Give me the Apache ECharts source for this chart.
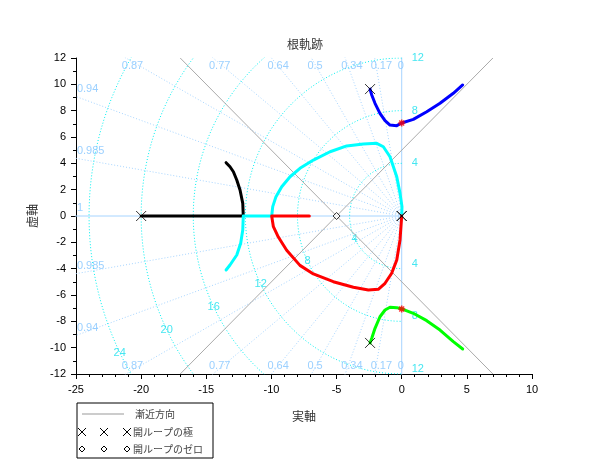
<!DOCTYPE html>
<html>
<head>
<meta charset="utf-8">
<title>根軌跡</title>
<script src="https://cdn.jsdelivr.net/npm/echarts@6/dist/echarts.min.js"></script>
<style>
    html, body { margin: 0; padding: 0; background: #fff; }
    #root_locus { width: 610px; height: 470px; }
</style>
</head>
<body>
<div id="root_locus"></div>
<script>

// Chart data
// ------------------------------

var poles = [[-20, 0], [0, 0], [0, 0], [-2.43, 9.64], [-2.43, -9.64]];
var zeros = [[-5, 0]];
var imagCrossings = [[0, 7.06], [0, -7.06]];

var asymptoteUp = [[-17, -12], [7, 12]];
var asymptoteDown = [[-17, 12], [7, -12]];

var branchBlack = [[-20, 0], [-12.16, 0], [-12.2, 0.96], [-12.41, 1.97], [-12.66, 2.73],
    [-12.92, 3.36], [-13.18, 3.74], [-13.48, 4.05]];

var branchCyan = [[0, 0], [0.02, 0.71], [-0.13, 1.72], [-0.38, 2.98], [-0.9, 4.5], [-1.41, 5.26],
    [-1.92, 5.52], [-2.95, 5.47], [-4.22, 5.32], [-5.5, 4.88], [-6.78, 4.25], [-7.81, 3.62],
    [-8.57, 2.98], [-9.21, 2.22], [-9.65, 1.47], [-9.9, 0.71], [-9.98, 0], [-12.16, 0],
    [-12.2, -1.06], [-12.36, -2.07], [-12.66, -2.96], [-13.18, -3.72], [-13.48, -4.1]];

var branchRed = [[0, 0], [-0.13, -1.82], [-0.38, -3.34], [-0.77, -4.35], [-1.28, -5.11],
    [-1.8, -5.57], [-2.56, -5.62], [-3.71, -5.41], [-5.25, -4.99], [-6.78, -4.4], [-7.81, -3.75],
    [-8.83, -2.6], [-9.47, -1.6], [-9.85, -0.81], [-9.98, 0], [-7.09, 0]];

var branchBlue = [[-2.43, 9.64], [-2.3, 9.19], [-2.05, 8.56], [-1.67, 7.8], [-1.28, 7.24],
    [-0.9, 6.91], [-0.38, 6.86], [0, 7.06], [0.89, 7.34], [1.92, 7.92], [2.94, 8.56],
    [3.96, 9.32], [4.68, 9.95]];

var branchGreen = [[-2.43, -9.64], [-2.3, -9.29], [-2.05, -8.53], [-1.67, -7.65], [-1.28, -7.14],
    [-0.9, -6.93], [-0.38, -6.96], [0, -7.06], [0.89, -7.39], [1.92, -7.95], [2.94, -8.66],
    [3.96, -9.54], [4.68, -10.1]];

// sgrid: damping ratios and natural frequencies
var zetaValues = [0, 0.17, 0.34, 0.5, 0.64, 0.77, 0.87, 0.94, 0.985, 1];
var zetaLabels = ['0', '0.17', '0.34', '0.5', '0.64', '0.77', '0.87', '0.94', '0.985', '1'];
var wnValues = [4, 8, 12, 16, 20, 24];
var wnRightLabels = [4, 8, 12];

var xTicks = { min: -25, max: 10, interval: 5 };
var yTicks = { min: -12, max: 12, interval: 2 };


// Setup module
// ------------------------------

var RootLocusChart = function() {

    var ZETA_COLOR = '#a6d4ff';
    var ZETA_TEXT = '#82c4ff';
    var WN_COLOR = '#00f0f0';
    var WN_TEXT = '#18e0ee';
    var LABEL_FONT = 'Liberation Sans, Arial, sans-serif';
    var JP_FONT = 'Noto Sans CJK JP, sans-serif';

    // Radial damping lines and natural frequency arcs
    var _gridSeries = function() {
        var list = [];
        var far = 60;

        zetaValues.forEach(function(z) {
            var phi = Math.acos(z);
            var dx = -far * Math.cos(phi), dy = far * Math.sin(phi);
            var solid = (z === 0 || z === 1);
            var halves = (z === 1) ? [1] : [1, -1];
            halves.forEach(function(s) {
                list.push({
                    type: 'line', silent: true, symbol: 'none', z: 1,
                    data: [[0, 0], [dx, s * dy]],
                    lineStyle: { color: ZETA_COLOR, width: 1, type: solid ? 'solid' : [1, 2] }
                });
            });
        });

        wnValues.forEach(function(r) {
            var pts = [];
            for (var a = 90; a <= 270; a += 2) {
                pts.push([r * Math.cos(a * Math.PI / 180), r * Math.sin(a * Math.PI / 180)]);
            }
            list.push({
                type: 'line', silent: true, symbol: 'none', z: 1, smooth: false,
                data: pts,
                lineStyle: { color: WN_COLOR, width: 1, type: [1, 2] }
            });
        });
        return list;
    };

    // Text labels of the sgrid
    var _gridLabels = function() {
        var items = [];
        var base = { show: true, fontSize: 11, fontFamily: LABEL_FONT, color: ZETA_TEXT };

        zetaValues.forEach(function(z, i) {
            var phi = Math.acos(z);
            var halves = (z === 1) ? [1] : [1, -1];
            halves.forEach(function(s) {
                var x, y, lab;
                var xTop = (z === 0) ? 0 : -yTicks.max * Math.cos(phi) / Math.sin(phi);
                if (z !== 1 && xTop >= xTicks.min) {
                    x = xTop; y = s * yTicks.max;
                    lab = Object.assign({}, base, {
                        position: [-4, s > 0 ? 3 : -2], align: 'left',
                        verticalAlign: s > 0 ? 'top' : 'bottom'
                    });
                } else {
                    x = xTicks.min; y = s * (-xTicks.min) * Math.tan(phi);
                    lab = Object.assign({}, base, {
                        position: [1, -2], align: 'left', verticalAlign: 'bottom'
                    });
                }
                items.push({ value: [x, y], name: zetaLabels[i], label: lab });
            });
        });

        var ang = 205.6 * Math.PI / 180;
        wnValues.forEach(function(r) {
            items.push({
                value: [r * Math.cos(ang), r * Math.sin(ang)], name: String(r),
                label: Object.assign({}, base, {
                    color: WN_TEXT, position: [0, 0], align: 'center', verticalAlign: 'middle'
                })
            });
        });

        wnRightLabels.forEach(function(r) {
            [1, -1].forEach(function(s) {
                items.push({
                    value: [0, s * r], name: String(r),
                    label: Object.assign({}, base, {
                        color: WN_TEXT, position: [10, s > 0 ? 0 : -5],
                        align: 'left', verticalAlign: 'middle'
                    })
                });
            });
        });

        return {
            type: 'scatter', silent: true, z: 2, symbolSize: 0.1,
            itemStyle: { color: 'transparent' },
            label: { show: true, formatter: '{b}' },
            data: items
        };
    };

    var _branch = function(data, color) {
        return {
            type: 'line', symbol: 'none', z: 4, data: data,
            lineStyle: { color: color, width: 3, cap: 'round', join: 'round' }
        };
    };

    var _asymptote = function(data) {
        return {
            type: 'line', symbol: 'none', z: 3, silent: true, data: data,
            lineStyle: { color: '#aaaaaa', width: 1 }
        };
    };

    // Legend drawn as graphic elements
    var _legend = function() {
        var els = [];
        var left = 77, top = 403;
        els.push({ type: 'rect', shape: { x: left, y: top, width: 136, height: 55 },
            style: { fill: '#fff', stroke: '#000', lineWidth: 1 } });
        els.push({ type: 'line', shape: { x1: left + 5, y1: top + 11, x2: left + 47, y2: top + 11 },
            style: { stroke: '#999', lineWidth: 1 } });
        [5, 27, 50].forEach(function(dx) {
            var cx = left + dx, cy = top + 29;
            els.push({ type: 'line', shape: { x1: cx - 4, y1: cy - 4, x2: cx + 4, y2: cy + 4 },
                style: { stroke: '#000', lineWidth: 1 } });
            els.push({ type: 'line', shape: { x1: cx - 4, y1: cy + 4, x2: cx + 4, y2: cy - 4 },
                style: { stroke: '#000', lineWidth: 1 } });
            var dy = top + 46;
            els.push({ type: 'polygon', shape: { points: [[cx, dy - 3], [cx + 3, dy], [cx, dy + 3], [cx - 3, dy]] },
                style: { fill: '#fff', stroke: '#000', lineWidth: 1 } });
        });
        var texts = [['漸近方向', 58, 11], ['開ループの極', 56, 29], ['開ループのゼロ', 56, 46]];
        texts.forEach(function(t) {
            els.push({ type: 'text', x: left + t[1], y: top + t[2],
                style: { text: t[0], fill: '#444', font: '10px ' + JP_FONT, verticalAlign: 'middle' } });
        });
        return els;
    };

    var _init = function() {
        if (typeof echarts == 'undefined') {
            console.warn('Warning - echarts.min.js is not loaded.');
            return;
        }
        var element = document.getElementById('root_locus');
        if (!element) return;

        var chart = echarts.init(element, null, { renderer: 'canvas' });

        var series = _gridSeries();
        series.push(_gridLabels());
        series.push(_asymptote(asymptoteUp));
        series.push(_asymptote(asymptoteDown));
        series.push(_branch(branchBlack, '#000000'));
        series.push(_branch(branchCyan, '#00ffff'));
        series.push(_branch(branchRed, '#ff0000'));
        series.push(_branch(branchBlue, '#0000ff'));
        series.push(_branch(branchGreen, '#00ff00'));

        // Open-loop poles
        series.push({
            type: 'scatter', z: 6, data: poles,
            symbol: 'path://M0,0L10,10M10,0L0,10', symbolSize: 10,
            itemStyle: { color: 'transparent', borderColor: '#000', borderWidth: 1 }
        });
        // Open-loop zeros
        series.push({
            type: 'scatter', z: 6, data: zeros,
            symbol: 'diamond', symbolSize: 7,
            itemStyle: { color: '#fff', borderColor: '#000', borderWidth: 1 }
        });
        // Imaginary axis crossings
        series.push({
            type: 'scatter', z: 7, data: imagCrossings,
            symbol: 'path://M5,0L5,10M0,5L10,5M1.5,1.5L8.5,8.5M8.5,1.5L1.5,8.5', symbolSize: 7,
            itemStyle: { color: 'transparent', borderColor: '#ff0000', borderWidth: 1.5 }
        });

        chart.setOption({
            animation: false,
            textStyle: { fontFamily: LABEL_FONT },
            title: {
                text: '根軌跡', left: 'center', top: 33,
                textStyle: { fontSize: 12, fontWeight: 'normal', color: '#333', fontFamily: JP_FONT }
            },
            grid: { left: 76, right: 78, top: 58, bottom: 96 },
            xAxis: {
                type: 'value', min: xTicks.min, max: xTicks.max, interval: xTicks.interval,
                name: '実軸', nameLocation: 'middle', nameGap: 36,
                nameTextStyle: { fontFamily: JP_FONT, fontSize: 12, color: '#333' },
                axisLine: { show: true, onZero: false, lineStyle: { color: '#000', width: 1 } },
                axisTick: { show: true, length: 5, lineStyle: { color: '#000' } },
                minorTick: { show: true, splitNumber: 5, length: 3, lineStyle: { color: '#000' } },
                axisLabel: { color: '#000', fontSize: 11, margin: 10 },
                splitLine: { show: false }
            },
            yAxis: {
                type: 'value', min: yTicks.min, max: yTicks.max, interval: yTicks.interval,
                name: '虚軸', nameLocation: 'middle', nameGap: 38,
                nameTextStyle: { fontFamily: JP_FONT, fontSize: 12, color: '#333' },
                axisLine: { show: true, onZero: false, lineStyle: { color: '#000', width: 1 } },
                axisTick: { show: true, length: 5, lineStyle: { color: '#000' } },
                minorTick: { show: true, splitNumber: 2, length: 3, lineStyle: { color: '#000' } },
                axisLabel: { color: '#000', fontSize: 11, margin: 10 },
                splitLine: { show: false }
            },
            graphic: _legend(),
            series: series
        });
    };

    return {
        init: function() {
            _init();
        }
    };
}();


// Initialize module
// ------------------------------

document.addEventListener('DOMContentLoaded', function() {
    RootLocusChart.init();
});
</script>
</body>
</html>
